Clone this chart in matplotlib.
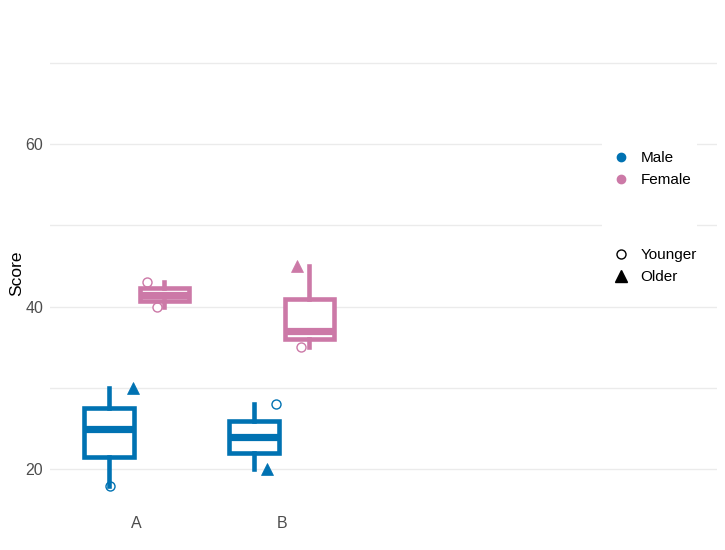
import numpy as np
import matplotlib.pyplot as plt
from matplotlib.lines import Line2D
from matplotlib.patches import Rectangle

plt.rcParams['font.family'] = ['Liberation Sans', 'DejaVu Sans']

# ------------------------------------------------------------
# DATA
# ------------------------------------------------------------
groups = ["A", "B"]
genders = ["Male", "Female"]
colors = {"Male": "#0072B2", "Female": "#CC79A7"}

# three scores per group / gender box
scores = {
    ("A", "Male"): [18, 25, 30],
    ("A", "Female"): [40, 41.5, 43],
    ("B", "Male"): [20, 24, 28],
    ("B", "Female"): [35, 37, 45],
}
ages = {
    ("A", "Male"): ["Younger", "Older", "Older"],
    ("A", "Female"): ["Younger", "Older", "Younger"],
    ("B", "Male"): ["Older", "Older", "Younger"],
    ("B", "Female"): ["Younger", "Older", "Older"],
}
# horizontal jitter of each point (in category units)
jitter = {
    ("A", "Male"): [0.005, 0.02, 0.165],
    ("A", "Female"): [-0.048, 0.0, -0.117],
    ("B", "Male"): [0.09, 0.0, 0.148],
    ("B", "Female"): [-0.059, 0.0, -0.086],
}

y_ticks = [20, 40, 60]
y_grid = [20, 30, 40, 50, 60, 70]

# ------------------------------------------------------------
# PLOT
# ------------------------------------------------------------
fig = plt.figure(figsize=(7.25, 5.5), dpi=100)
ax = fig.add_axes([50 / 725, 44 / 550, 667 / 725, 466 / 550])

dodge = 0.19

for gi, g in enumerate(groups):
    for sex in genders:
        key = (g, sex)
        pos = gi + 1 + (-dodge if sex == "Male" else dodge)
        col = colors[sex]

        # points
        for v, a, j in zip(scores[key], ages[key], jitter[key]):
            if a == "Younger":
                ax.plot(pos + j, v, marker="o", ms=6.5, mfc="white",
                        mec=col, mew=1.0, zorder=2)
            else:
                ax.plot(pos + j, v, marker="^", ms=8, mfc=col,
                        mec=col, mew=0.5, zorder=2)

        # box
        ax.boxplot(
            [scores[key]], positions=[pos], widths=0.34,
            whis=(0, 100), patch_artist=True, showfliers=False,
            showcaps=False, manage_ticks=False,
            boxprops=dict(facecolor="white", edgecolor=col, linewidth=3.3),
            whiskerprops=dict(color=col, linewidth=3.3),
            medianprops=dict(color=col, linewidth=5.2, solid_capstyle="butt"),
            zorder=3,
        )

ax.set_xlim(0.403, 5.0)
ax.set_ylim(15.5, 72.8)

ax.set_xticks([1, 2])
ax.set_xticklabels(groups)
ax.set_yticks(y_ticks)
ax.set_yticks(y_grid, minor=True)
ax.tick_params(axis="both", which="both", length=0, labelsize=11.5,
               labelcolor="#4D4D4D")
ax.tick_params(axis="x", pad=7)
ax.tick_params(axis="y", pad=5)

ax.grid(axis="y", which="both", color="#EBEBEB", linewidth=1.0, zorder=0)
ax.set_axisbelow(True)
for s in ax.spines.values():
    s.set_visible(False)

ax.set_ylabel("Score", fontsize=12.5, color="black", labelpad=1)

# ------------------------------------------------------------
# LEGEND
# ------------------------------------------------------------
ax.add_patch(Rectangle((602 / 725, (550 - 295) / 550), 95 / 725,
                       163 / 550, transform=fig.transFigure, clip_on=False,
                       facecolor="white", edgecolor="none", zorder=5))

color_handles = [
    Line2D([], [], ls="none", marker="o", ms=6, mfc=colors[s], mec=colors[s])
    for s in genders
]
shape_handles = [
    Line2D([], [], ls="none", marker="o", ms=6.5, mfc="white", mec="black"),
    Line2D([], [], ls="none", marker="^", ms=8, mfc="black", mec="black"),
]

leg1 = ax.legend(color_handles, genders, loc="upper left",
                 bbox_to_anchor=(613 / 725, 1 - 151 / 550),
                 bbox_transform=fig.transFigure, frameon=False,
                 fontsize=11, handlelength=1.0, handletextpad=0.8,
                 labelspacing=0.55, borderpad=0, borderaxespad=0)
leg1.set_zorder(6)
ax.add_artist(leg1)

leg2 = ax.legend(shape_handles, ["Younger", "Older"], loc="upper left",
                 bbox_to_anchor=(613 / 725, 1 - 248 / 550),
                 bbox_transform=fig.transFigure, frameon=False,
                 fontsize=11, handlelength=1.0, handletextpad=0.8,
                 labelspacing=0.55, borderpad=0, borderaxespad=0)
leg2.set_zorder(6)

fig.savefig("out.png", dpi=100)
